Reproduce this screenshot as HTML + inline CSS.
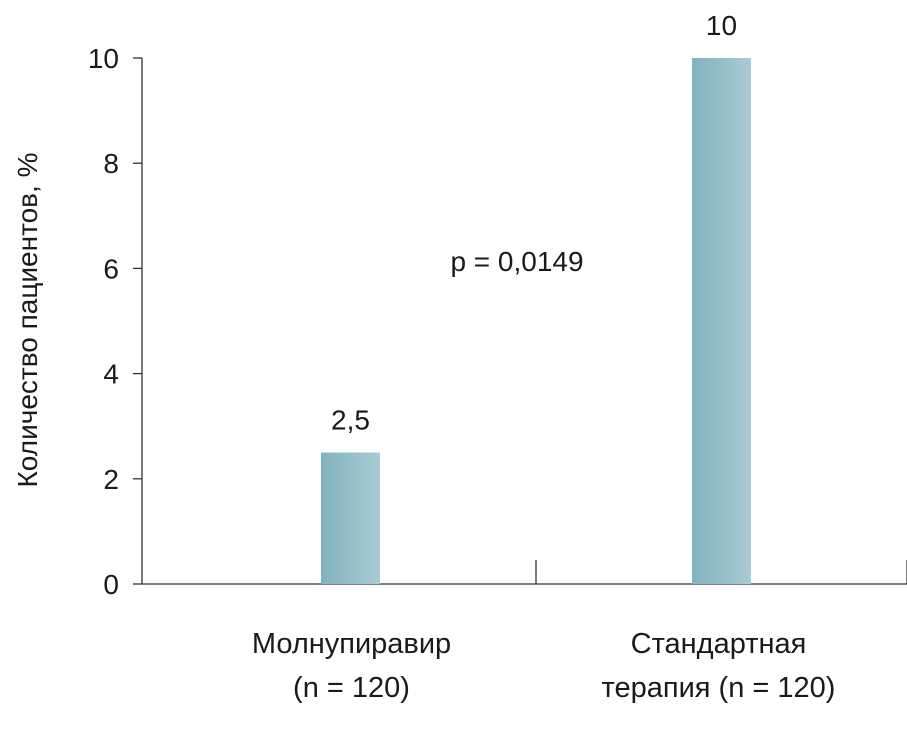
<!DOCTYPE html>
<html><head><meta charset="utf-8">
<style>
html,body{margin:0;padding:0;background:#fff;}
svg{display:block;font-family:"Liberation Sans","DejaVu Sans",sans-serif;}
</style></head>
<body>
<svg id="chart" width="907" height="732" viewBox="0 0 907 732">
<defs>
<linearGradient id="barGrad" x1="0" x2="1" y1="0" y2="0">
<stop offset="0" stop-color="#82b3bd"/>
<stop offset="1" stop-color="#a9cbd3"/>
</linearGradient>
</defs>
<g id="axes"></g>
<g id="bars"></g>
<text x="517" y="271" font-size="28" text-anchor="middle" fill="#1a1a1a">p = 0,0149</text>
<text transform="translate(37,320) rotate(-90)" font-size="28" text-anchor="middle" fill="#1a1a1a">Количество пациентов, %</text>
</svg>
<script>
const categories = ["Молнупиравир|(n = 120)", "Стандартная|терапия (n = 120)"];
const values = [2.5, 10];
const valueLabels = ["2,5", "10"];
const yTicks = [0, 2, 4, 6, 8, 10];

const NS = "http://www.w3.org/2000/svg";
const y0 = 584, yTop = 58, yMax = 10;
const xLeft = 142, xRight = 907;
function yScale(v){ return y0 - (v / yMax) * (y0 - yTop); }
const bandW = 371;
const bandStart = xRight - bandW * categories.length;
function xCenter(i){ return bandStart + bandW * i + bandW / 2; }
const barW = 59;

function mk(tag, attrs, parent){
  const e = document.createElementNS(NS, tag);
  for (const k in attrs) e.setAttribute(k, attrs[k]);
  parent.appendChild(e);
  return e;
}
const axes = document.getElementById("axes");
const bars = document.getElementById("bars");

const yAxis = mk("line", {x1:xLeft, x2:xLeft, y1:yTop, y2:y0, stroke:"#333", "stroke-width":1.3}, axes);


const xAxis = mk("line", {x1:xLeft, x2:xRight, y1:y0, y2:y0, stroke:"#333", "stroke-width":1.3}, axes);



yTicks.forEach(t => {
  const y = yScale(t);
  const tk = mk("line", {x1:xLeft-9, x2:xLeft, y1:y, y2:y, stroke:"#333", "stroke-width":1.3}, axes);
  
  
  const lb = mk("text", {x:119, y:y+10, "font-size":28, "text-anchor":"end", fill:"#1a1a1a"}, axes);
  lb.textContent = String(t);
  
  
});

for (let i = 1; i <= categories.length; i++) {
  const x = bandStart + bandW * i;
  const tk = mk("line", {x1:x, x2:x, y1:y0-24, y2:y0, stroke:"#333", "stroke-width":1.3}, axes);
  
  
}

categories.forEach((c, i) => {
  const cx = xCenter(i);
  const v = values[i];
  const y = yScale(v);
  const r = mk("rect", {x:cx-barW/2, y:y, width:barW, height:y0-y, fill:"url(#barGrad)"}, bars);
  
  
  const vl = mk("text", {x:cx, y:y-23, "font-size":28, "text-anchor":"middle", fill:"#1a1a1a"}, bars);
  vl.textContent = valueLabels[i];
  
  
  const lines = c.split("|");
  const tx = i === 0 ? cx + 1 : cx - 3;
  lines.forEach((ln, j) => {
    const t = mk("text", {x:tx, y:653 + j*44, "font-size":29, "text-anchor":"middle", fill:"#1a1a1a"}, axes);
    t.textContent = ln;
    
    
  });
});
</script>
</body></html>
